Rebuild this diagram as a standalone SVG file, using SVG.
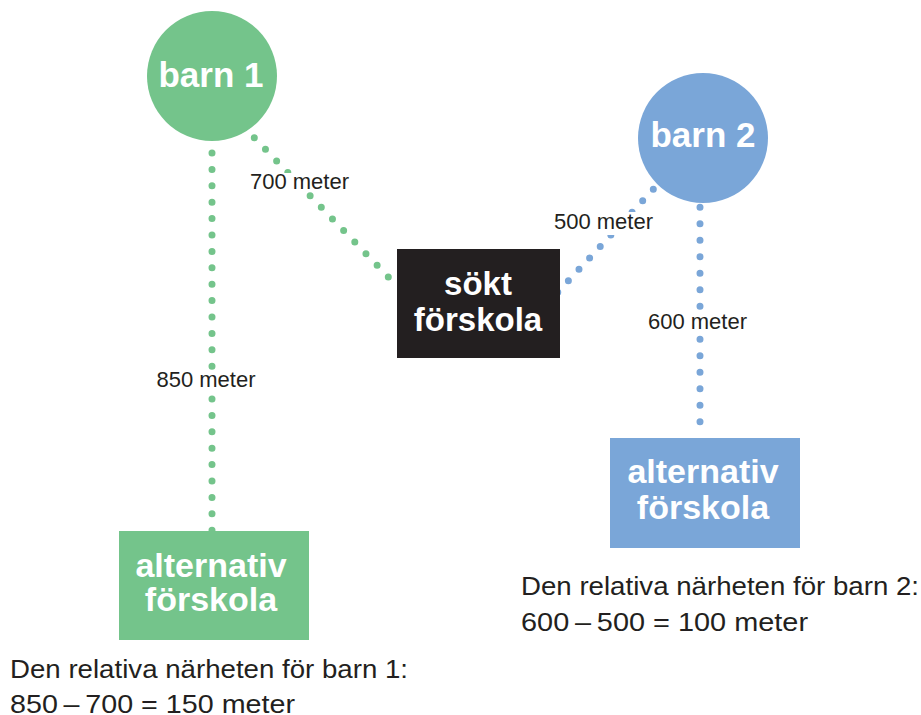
<svg xmlns="http://www.w3.org/2000/svg" width="921" height="715" viewBox="0 0 921 715">
<style>
.node{font-family:"Liberation Sans",Arial,sans-serif;font-weight:bold;fill:#ffffff;text-anchor:middle}
.lbl{font-family:"Liberation Sans",Arial,sans-serif;font-size:22px;fill:#231f20;text-anchor:middle}
.note{font-family:"Liberation Sans",Arial,sans-serif;font-size:26.5px;fill:#231f20}
.g{stroke:#74c48b;stroke-width:7;stroke-linecap:round;fill:none}
.b{stroke:#7aa6d8;stroke-width:7;stroke-linecap:round;fill:none}
.bg{fill:#ffffff}
</style>
<rect width="921" height="715" fill="#ffffff"/>
<g id="connectors">
<line class="g" x1="212" y1="153" x2="212" y2="531" stroke-dasharray="0 16.4"/>
<line class="g" x1="254.3" y1="137.7" x2="399" y2="288" stroke-dasharray="0 16.1"/>
<line class="b" x1="653.3" y1="189.3" x2="557" y2="293" stroke-dasharray="0 15.6"/>
<line class="b" x1="700" y1="207.3" x2="700" y2="438" stroke-dasharray="0 16.5"/>
<rect class="bg" x="248" y="173" width="103" height="19"/>
<text class="lbl" x="299.5" y="189.3">700 meter</text>
<rect class="bg" x="552" y="212" width="103" height="23"/>
<text class="lbl" x="603.5" y="229">500 meter</text>
<rect class="bg" x="155" y="371" width="102" height="20"/>
<text class="lbl" x="206" y="387">850 meter</text>
<rect class="bg" x="646" y="312" width="103" height="21"/>
<text class="lbl" x="697.5" y="329">600 meter</text>
</g>
<g id="barn1">
<circle cx="212" cy="76" r="65" fill="#74c48b"/>
<text class="node" x="211" y="87" font-size="35">barn 1</text>
</g>
<g id="barn2">
<circle cx="703" cy="138" r="65" fill="#7aa6d8"/>
<text class="node" x="703" y="147" font-size="35">barn 2</text>
</g>
<g id="sokt">
<rect x="397" y="249" width="163" height="109" fill="#231f20"/>
<text class="node" x="478" y="295" font-size="33">sökt</text>
<text class="node" x="478" y="331" font-size="33">förskola</text>
</g>
<g id="alt1">
<rect x="119" y="531" width="190" height="109" fill="#74c48b"/>
<text class="node" x="211" y="577" font-size="34">alternativ</text>
<text class="node" x="211" y="611" font-size="34">förskola</text>
</g>
<g id="alt2">
<rect x="610" y="438" width="190" height="110" fill="#7aa6d8"/>
<text class="node" x="703" y="483" font-size="34">alternativ</text>
<text class="node" x="703" y="519" font-size="34">förskola</text>
</g>
<g id="note1">
<text class="note" x="10" y="678" textLength="398" lengthAdjust="spacingAndGlyphs">Den relativa närheten för barn 1:</text>
<text class="note" x="10" y="713" textLength="285" lengthAdjust="spacingAndGlyphs">850&#8201;–&#8201;700 = 150 meter</text>
</g>
<g id="note2">
<text class="note" x="521" y="595" textLength="398" lengthAdjust="spacingAndGlyphs">Den relativa närheten för barn 2:</text>
<text class="note" x="521" y="631" textLength="287" lengthAdjust="spacingAndGlyphs">600&#8201;–&#8201;500 = 100 meter</text>
</g>
</svg>
